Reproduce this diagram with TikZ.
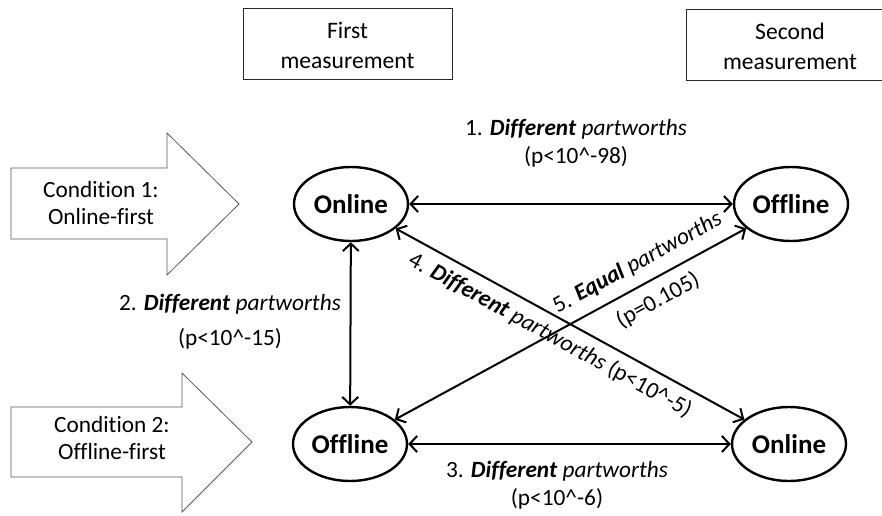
\documentclass[tikz,border=0pt]{standalone}
\usepackage{fontspec}
\setmainfont{Carlito}[Ligatures=NoCommon]
\usetikzlibrary{shapes.geometric,arrows.meta}
\begin{document}
\begin{tikzpicture}[x=1pt,y=-1pt,
  state/.style={ellipse, draw, line width=2.4pt, minimum width=114pt, minimum height=74pt, inner sep=0pt, font=\fontsize{27}{30}\selectfont\bfseries},
  link/.style={line width=2pt, {Straight Barb[length=7.5pt,width=16pt]}-{Straight Barb[length=7.5pt,width=16pt]}},
  lbl/.style={font=\fontsize{23.3}{28}\selectfont, align=center, inner sep=0pt},
  hdr/.style={align=center, inner sep=0pt, font=\fontsize{23.6}{30}\selectfont},
  frame/.style={draw=black!85, line width=1pt},
  cond/.style={draw=black!65, line width=0.8pt, fill=white}
]
\useasboundingbox (0,0) rectangle (882,515);

% header boxes
\draw[frame] (243,8) rectangle (452,79);
\node[hdr] (first) at (347.5,45) {First\\measurement};
\draw[frame] (882,9) -- (686,9) -- (686,80) -- (882,80);
\node[hdr] (second) at (790,46) {Second\\measurement};

% condition arrows
\draw[cond] (11,168) -- (167,168) -- (167,133) -- (239,204) -- (167,275) -- (167,239) -- (11,239) -- cycle;
\node[lbl, font=\fontsize{23.3}{27}\selectfont] (c1) at (101,203) {Condition 1:\\Online-first};
\draw[cond] (11,407) -- (182,407) -- (182,373) -- (252,442) -- (182,512) -- (182,477) -- (11,477) -- cycle;
\node[lbl, font=\fontsize{23.3}{27}\selectfont] (c2) at (112,438) {Condition 2:\\Offline-first};

% states
\node[state] (on1)  at (351,204) {Online};
\node[state] (off2) at (791,204) {Offline};
\node[state] (off1) at (350,444) {Offline};
\node[state] (on2)  at (789,444) {Online};

% connectors
\draw[link] (on1) -- (off2);
\draw[link] (on1) -- (off1);
\draw[link] (off1) -- (on2);
\draw[link] (on1) -- node[sloped, anchor=north, lbl, inner sep=8pt, pos=0.47] (l4)
  {4. \textbf{\textit{Different}} \textit{partworths} (p<10\^{}-5)} (on2);
\draw[link] (off1) -- node[sloped, lbl, pos=0.72] (l5)
  {5. \textbf{\textit{Equal}} \textit{partworths}\\[15pt](p=0.105)} (off2);

% labels
\node[lbl] (l1) at (576,143.5) {1. \textbf{\textit{Different}} \textit{partworths}\\(p<10\^{}-98)};
\node[lbl] (l2) at (230,322) {2. \textbf{\textit{Different}} \textit{partworths}\\[7pt](p<10\^{}-15)};
\node[lbl] (l3) at (557,485.5) {3. \textbf{\textit{Different}} \textit{partworths}\\(p<10\^{}-6)};
\end{tikzpicture}
\end{document}
